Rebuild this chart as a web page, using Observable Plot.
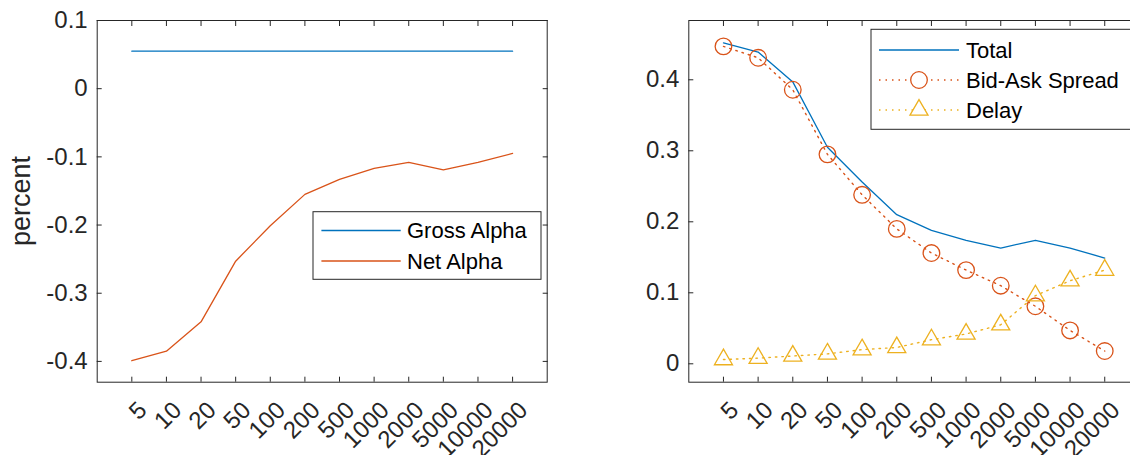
<!DOCTYPE html>
<html><head><meta charset="utf-8">
<script src="https://cdn.jsdelivr.net/npm/d3@7"></script>
<script src="https://cdn.jsdelivr.net/npm/@observablehq/plot@0.6"></script>
<style>
html,body{margin:0;padding:0;background:#fff;overflow:hidden;}
#wrap{position:relative;width:1130px;height:455px;overflow:hidden;font-family:"Liberation Sans",Arial,sans-serif;background:#fff;}
.panel{position:absolute;top:0;}
#overlay{position:absolute;left:0;top:0;}
</style></head><body><div id="wrap"></div>
<script>
// ---- data ----
const sizes = ["5","10","20","50","100","200","500","1000","2000","5000","10000","20000"];
const grossAlpha = [0.055,0.055,0.055,0.055,0.055,0.055,0.055,0.055,0.055,0.055,0.055,0.055];
const netAlpha = [-0.399,-0.385,-0.342,-0.253,-0.201,-0.155,-0.133,-0.117,-0.108,-0.119,-0.108,-0.095];
const total = [0.452,0.439,0.397,0.305,0.256,0.210,0.188,0.174,0.163,0.174,0.163,0.149];
const bidAsk = [0.447,0.431,0.386,0.295,0.238,0.190,0.156,0.132,0.110,0.081,0.047,0.018];
const delay = [0.006,0.008,0.011,0.014,0.020,0.023,0.034,0.042,0.055,0.096,0.117,0.132];
const leftYTicks = [-0.4,-0.3,-0.2,-0.1,0,0.1];
const rightYTicks = [0,0.1,0.2,0.3,0.4];
const leftSeries = ["Gross Alpha","Net Alpha"];
const rightSeries = ["Total","Bid-Ask Spread","Delay"];
const yLabelLeft = "percent";

// ---- styles ----
const BLUE = "#0072BD", ORANGE = "#D95319", YELLOW = "#EDB120", INK = "#262626";
const FONT = "Liberation Sans, Arial, sans-serif";
const fmt = d => d === 0 ? "0" : String(Math.round(d * 10) / 10);
const DOTTED = "1.5,5";

function axesMarks(yTicks) {
  return [
    Plot.axisX({anchor: "bottom", tickSize: -5, tickFormat: () => "", label: null, stroke: INK}),
    Plot.axisX({anchor: "top", tickSize: -5, tickFormat: () => "", label: null, stroke: INK}),
    Plot.axisY(yTicks, {anchor: "left", tickSize: -5, tickFormat: () => "", label: null, stroke: INK}),
    Plot.axisY(yTicks, {anchor: "right", tickSize: -5, tickFormat: () => "", label: null, stroke: INK}),
    Plot.axisY(yTicks, {anchor: "left", tickSize: 0, tickPadding: 9.5, tickFormat: fmt, fontSize: 24, label: null, fill: INK}),
    Plot.axisX({anchor: "bottom", tickSize: 0, tickRotate: -45, tickPadding: 24, dx: 11, fontSize: 24, label: null, fill: INK}),
    Plot.frame({stroke: INK, strokeWidth: 1})
  ];
}

const wrap = document.getElementById("wrap");

const left = Plot.plot({
  width: 560, height: 455,
  marginLeft: 96.7, marginRight: 13.3, marginTop: 20, marginBottom: 73.3,
  style: {fontFamily: FONT, background: "transparent", overflow: "visible"},
  x: {type: "point", domain: sizes, padding: 1, round: false},
  y: {domain: [-0.4305, 0.1]},
  marks: [
    ...axesMarks(leftYTicks),
    Plot.line(grossAlpha, {x: sizes, y: d => d, stroke: BLUE, strokeWidth: 1.3}),
    Plot.line(netAlpha, {x: sizes, y: d => d, stroke: ORANGE, strokeWidth: 1.3})
  ]
});
left.classList.add("panel");
left.style.left = "0px";
wrap.appendChild(left);

const right = Plot.plot({
  width: 580, height: 455,
  marginLeft: 108.3, marginRight: 21.1, marginTop: 20, marginBottom: 73.3,
  style: {fontFamily: FONT, background: "transparent", overflow: "visible"},
  x: {type: "point", domain: sizes, padding: 1, round: false},
  y: {domain: [-0.0259, 0.4835]},
  marks: [
    ...axesMarks(rightYTicks),
    Plot.line(total, {x: sizes, y: d => d, stroke: BLUE, strokeWidth: 1.3}),
    Plot.line(bidAsk, {x: sizes, y: d => d, stroke: ORANGE, strokeWidth: 1.4, strokeDasharray: DOTTED}),
    Plot.dot(bidAsk, {x: sizes, y: d => d, symbol: "circle", r: 8.3, stroke: ORANGE, strokeWidth: 1.3, fill: "none"}),
    Plot.line(delay, {x: sizes, y: d => d, stroke: YELLOW, strokeWidth: 1.4, strokeDasharray: DOTTED}),
    Plot.dot(delay, {x: sizes, y: d => d, symbol: "triangle", r: 6.7, stroke: YELLOW, strokeWidth: 1.3, fill: "none"})
  ]
});
right.classList.add("panel");
right.style.left = "580px";
wrap.appendChild(right);

// ---- overlay: y label + legends ----
const svg = d3.select(wrap).append("svg").attr("id", "overlay")
  .attr("width", 1130).attr("height", 455)
  .style("font-family", FONT);

svg.append("text")
  .attr("transform", "translate(30,201) rotate(-90)")
  .attr("text-anchor", "middle")
  .attr("font-size", 27).attr("fill", INK)
  .text(yLabelLeft);

// left legend
const lg = svg.append("g");
lg.append("rect").attr("x", 313).attr("y", 211.7).attr("width", 228).attr("height", 67.6)
  .attr("fill", "#fff").attr("stroke", INK).attr("stroke-width", 1);
const leftStyles = [{stroke: BLUE}, {stroke: ORANGE}];
leftSeries.forEach((name, i) => {
  const y = 230.5 + i * 30.5;
  lg.append("line").attr("x1", 321.4).attr("x2", 400.7).attr("y1", y).attr("y2", y)
    .attr("stroke", leftStyles[i].stroke).attr("stroke-width", 1.3);
  lg.append("text").attr("x", 407).attr("y", y).attr("dy", "0.36em")
    .attr("font-size", 22).attr("fill", "#000").text(name);
});

// right legend
const rg = svg.append("g");
rg.append("rect").attr("x", 871).attr("y", 29.3).attr("width", 275).attr("height", 100)
  .attr("fill", "#fff").attr("stroke", INK).attr("stroke-width", 1);
const rightStyles = [
  {stroke: BLUE, dash: null, symbol: null},
  {stroke: ORANGE, dash: DOTTED, symbol: "circle"},
  {stroke: YELLOW, dash: DOTTED, symbol: "triangle"}
];
rightSeries.forEach((name, i) => {
  const y = 50 + i * 30;
  const s = rightStyles[i];
  const ln = rg.append("line").attr("x1", 879).attr("x2", 959).attr("y1", y).attr("y2", y)
    .attr("stroke", s.stroke).attr("stroke-width", s.dash ? 1.4 : 1.3);
  if (s.dash) ln.attr("stroke-dasharray", s.dash);
  if (s.symbol === "circle") {
    rg.append("circle").attr("cx", 919).attr("cy", y).attr("r", 8.3)
      .attr("fill", "#fff").attr("stroke", s.stroke).attr("stroke-width", 1.3);
  } else if (s.symbol === "triangle") {
    rg.append("path").attr("transform", `translate(919,${y})`)
      .attr("d", d3.symbol(d3.symbolTriangle, Math.PI * 6.7 * 6.7)())
      .attr("fill", "#fff").attr("stroke", s.stroke).attr("stroke-width", 1.3);
  }
  rg.append("text").attr("x", 966).attr("y", y).attr("dy", "0.36em")
    .attr("font-size", 22).attr("fill", "#000").text(name);
});
</script></body></html>
